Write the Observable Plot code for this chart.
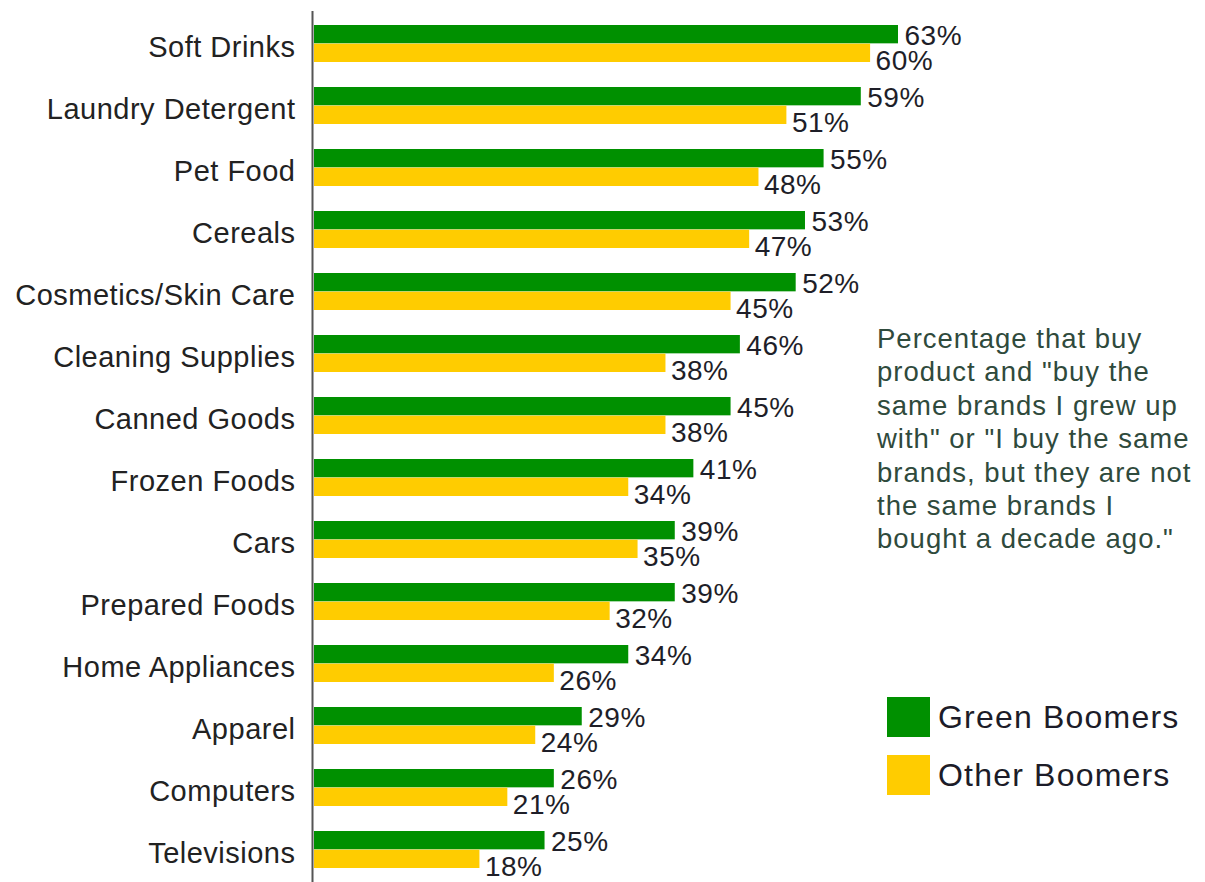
<!DOCTYPE html>
<html>
<head>
<meta charset="utf-8">
<script src="https://cdn.jsdelivr.net/npm/d3@7"></script>
<script src="https://cdn.jsdelivr.net/npm/@observablehq/plot@0.6"></script>
<style>
  html, body { margin: 0; padding: 0; background: #fff; }
  #wrap { position: relative; width: 1205px; height: 882px; font-family: Arial, "Liberation Sans", sans-serif; }
  #note { position: absolute; left: 877px; top: 322px; font-size: 27.5px; line-height: 33.4px; color: #2f4a3c; letter-spacing: 1px; white-space: nowrap; }
  #legend { position: absolute; left: 887px; top: 697px; }
  .item { display: flex; align-items: center; height: 40px; margin-bottom: 18px; }
  .sw { width: 43px; height: 40px; margin-right: 8px; }
  .lab { font-size: 32px; color: #1c1c28; letter-spacing: 1.2px; }
  svg text { letter-spacing: 0.5px; }
</style>
</head>
<body>
<div id="wrap"></div>
<script>
const categories = ["Soft Drinks", "Laundry Detergent", "Pet Food", "Cereals", "Cosmetics/Skin Care", "Cleaning Supplies", "Canned Goods", "Frozen Foods", "Cars", "Prepared Foods", "Home Appliances", "Apparel", "Computers", "Televisions"];
const greenBoomers = [63, 59, 55, 53, 52, 46, 45, 41, 39, 39, 34, 29, 26, 25];
const otherBoomers = [60, 51, 48, 47, 45, 38, 38, 34, 35, 32, 26, 24, 21, 18];
const seriesNames = ["Green Boomers", "Other Boomers"];
const seriesColors = ["#009000", "#ffcc00"];
const noteText = ["Percentage that buy", "product and \"buy the", "same brands I grew up", "with\" or \"I buy the same", "brands, but they are not", "the same brands I", "bought a decade ago.\""];

const green = categories.map((c, i) => ({category: c, series: seriesNames[0], value: greenBoomers[i]}));
const other = categories.map((c, i) => ({category: c, series: seriesNames[1], value: otherBoomers[i]}));

const W = 1205, H = 882, mt = 11, mb = 0;
const pIn = 0.4, pOut = 0.2;
const step = (H - mt - mb) / (categories.length - pIn + 2 * pOut);
const bw = step * (1 - pIn);
const half = bw / 2;

const chart = Plot.plot({
  width: W,
  height: H,
  marginTop: mt,
  marginBottom: mb,
  marginLeft: 312,
  marginRight: 307,
  style: {fontFamily: "Arial, 'Liberation Sans', sans-serif", background: "#fff"},
  x: {domain: [0, 63], axis: null},
  y: {domain: categories, paddingInner: pIn, paddingOuter: pOut, label: null},
  color: {domain: seriesNames, range: seriesColors},
  marks: [
    Plot.axisY({tickSize: 0, tickPadding: 17, fontSize: 29, dy: 4, fill: "#222", label: null}),
    Plot.barX(green, {x: "value", y: "category", fill: "series", insetBottom: half, insetLeft: 2}),
    Plot.barX(other, {x: "value", y: "category", fill: "series", insetTop: half, insetLeft: 2}),
    Plot.ruleX([0], {stroke: "#555", strokeWidth: 2}),
    Plot.text(green, {x: "value", y: "category", text: d => d.value + "%", textAnchor: "start", dx: 6, dy: -half / 2 + 1, fontSize: 28, fill: "#1e1e28"}),
    Plot.text(other, {x: "value", y: "category", text: d => d.value + "%", textAnchor: "start", dx: 5, dy: half / 2 + 8, fontSize: 28, fill: "#1e1e28"})
  ]
});

const wrap = document.getElementById("wrap");
wrap.appendChild(chart);

const note = document.createElement("div");
note.id = "note";
note.innerHTML = noteText.map(t => t.replace(/&/g, "&amp;")).join("<br>");
wrap.appendChild(note);

const legend = document.createElement("div");
legend.id = "legend";
seriesNames.forEach((s, i) => {
  const it = document.createElement("div");
  it.className = "item";
  it.innerHTML = `<div class="sw" style="background:${seriesColors[i]}"></div><span class="lab">${s}</span>`;
  legend.appendChild(it);
});
wrap.appendChild(legend);
</script>
</body>
</html>
